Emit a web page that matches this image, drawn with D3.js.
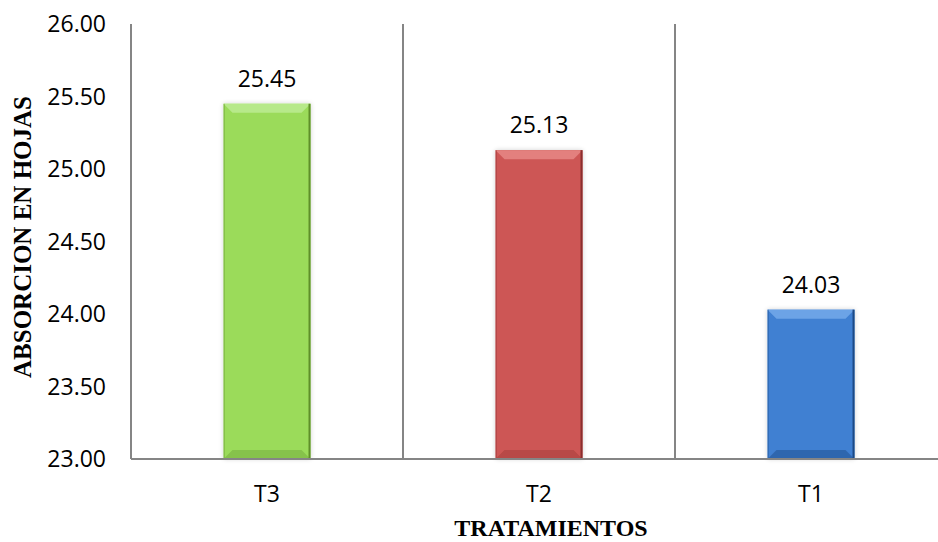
<!DOCTYPE html>
<html>
<head>
<meta charset="utf-8">
<script src="https://cdn.jsdelivr.net/npm/d3@7/dist/d3.min.js"></script>
<style>
  html, body { margin: 0; padding: 0; background: #ffffff; }
  svg { display: block; }
</style>
</head>
<body>
<script>
const categories = ["T3", "T2", "T1"];
const values = [25.45, 25.13, 24.03];
const tickValues = [23.00, 23.50, 24.00, 24.50, 25.00, 25.50, 26.00];
const yTitle = "ABSORCION EN HOJAS";
const xTitle = "TRATAMIENTOS";
const barColors = [
  { main: "#9BDB5A", light: "#B7E98A", dark: "#5F8F2C", bottom: "#86C24B" },
  { main: "#CD5654", light: "#E3807E", dark: "#8A2F2D", bottom: "#B84846" },
  { main: "#3F80D2", light: "#6CA3E6", dark: "#1F4A85", bottom: "#2F66AE" }
];

const W = 938, H = 542;
const plotL = 131, plotR = 947, plotT = 24, plotB = 459;

const svg = d3.select("body").append("svg").attr("width", W).attr("height", H);

const x = d3.scaleBand().domain(categories).range([plotL, plotR]).padding(0);
const y = d3.scaleLinear().domain([23, 26]).range([plotB, plotT]);
const barW = x.bandwidth() * 0.32;

const defs = svg.append("defs");
const f = defs.append("filter").attr("id", "sh").attr("x", "-20%").attr("y", "-20%").attr("width", "140%").attr("height", "140%");
f.append("feGaussianBlur").attr("in", "SourceAlpha").attr("stdDeviation", 2.5).attr("result", "b");
f.append("feComponentTransfer").attr("in", "b").attr("result", "o2")
  .append("feFuncA").attr("type", "linear").attr("slope", 0.18);
const m = f.append("feMerge");
m.append("feMergeNode").attr("in", "o2");
m.append("feMergeNode").attr("in", "SourceGraphic");

// vertical category separators and y-axis line
const seps = categories.map(c => x(c));
svg.append("g").selectAll("line").data(seps).join("line")
  .attr("x1", d => d).attr("x2", d => d)
  .attr("y1", plotT).attr("y2", plotB)
  .attr("stroke", "#858585").attr("stroke-width", 2);

// y tick labels
svg.append("g").selectAll("text").data(tickValues).join("text")
  .attr("x", 106).attr("y", d => y(d)).attr("dy", "0.35em")
  .attr("text-anchor", "end")
  .attr("font-family", "'Open Sans', sans-serif").attr("font-size", 23)
  .attr("fill", "#000")
  .text(d => d.toFixed(2));

// bars
const bars = svg.append("g").selectAll("g").data(categories).join("g");

bars.each(function(c, i) {
  const g = d3.select(this);
  const col = barColors[i];
  const bx = x(c) + (x.bandwidth() - barW) / 2;
  const by = y(values[i]);
  const bh = plotB - by;
  const b = 9;
  const bar = g.append("g").attr("filter", "url(#sh)");
  bar.append("rect").attr("x", bx).attr("y", by).attr("width", barW).attr("height", bh).attr("fill", col.main);
  bar.append("polygon").attr("points", [[bx, by], [bx + barW, by], [bx + barW - b, by + b], [bx + b, by + b]].map(p => p.join(",")).join(" "))
    .attr("fill", col.light);
  bar.append("polygon").attr("points", [[bx, plotB], [bx + barW, plotB], [bx + barW - b, plotB - b], [bx + b, plotB - b]].map(p => p.join(",")).join(" "))
    .attr("fill", col.bottom);
  bar.append("rect").attr("x", bx + barW - 2).attr("y", by).attr("width", 2).attr("height", bh).attr("fill", col.dark);
  bar.append("rect").attr("x", bx).attr("y", by).attr("width", 1.5).attr("height", bh).attr("fill", col.dark).attr("opacity", 0.35);
  g.append("text").attr("x", bx + barW / 2).attr("y", by - 17)
    .attr("text-anchor", "middle")
    .attr("font-family", "'Open Sans', sans-serif").attr("font-size", 23)
    .attr("fill", "#000")
    .text(values[i].toFixed(2));
});

// x axis line
svg.append("line").attr("x1", plotL).attr("x2", plotR).attr("y1", plotB).attr("y2", plotB)
  .attr("stroke", "#858585").attr("stroke-width", 2);

// category labels
svg.append("g").selectAll("text").data(categories).join("text")
  .attr("x", d => x(d) + x.bandwidth() / 2).attr("y", 502)
  .attr("text-anchor", "middle")
  .attr("font-family", "'Open Sans', sans-serif").attr("font-size", 23)
  .attr("fill", "#000")
  .text(d => d);

// axis titles
svg.append("text").attr("x", 551).attr("y", 536)
  .attr("text-anchor", "middle")
  .attr("font-family", "'Liberation Serif', 'Times New Roman', serif").attr("font-weight", "bold").attr("font-size", 24)
  .attr("fill", "#000").text(xTitle);

svg.append("text").attr("transform", "translate(31,237) rotate(-90)")
  .attr("text-anchor", "middle")
  .attr("font-family", "'Liberation Serif', 'Times New Roman', serif").attr("font-weight", "bold").attr("font-size", 25)
  .attr("fill", "#000").text(yTitle);
</script>
</body>
</html>
